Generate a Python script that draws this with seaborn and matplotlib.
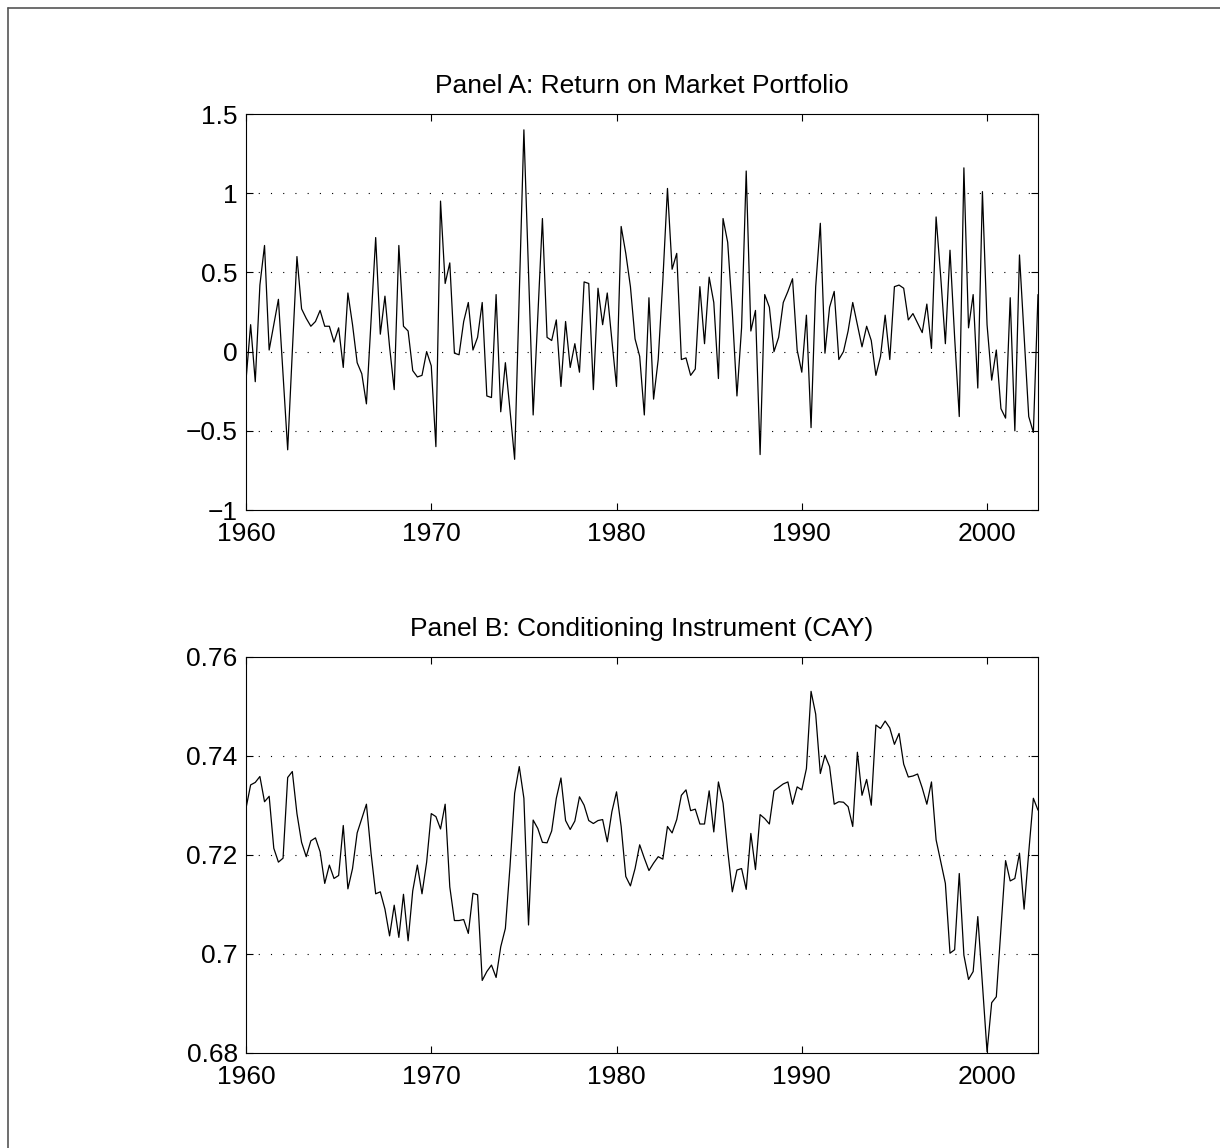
import matplotlib
matplotlib.use("Agg")
import matplotlib.pyplot as plt
import numpy as np
import pandas as pd
import seaborn as sns
from matplotlib.lines import Line2D

# quarterly observations, 1960Q1 .. 2002Q4
start_year = 1960
ret = [
    -0.18, 0.17, -0.19, 0.42, 0.67, 0.01, 0.17, 0.33, -0.14, -0.62,
    0.00, 0.60, 0.27, 0.21, 0.16, 0.19, 0.26, 0.16, 0.16, 0.06,
    0.15, -0.10, 0.37, 0.17, -0.07, -0.14, -0.33, 0.20, 0.72, 0.11,
    0.35, 0.03, -0.24, 0.67, 0.16, 0.13, -0.12, -0.16, -0.15, 0.00,
    -0.09, -0.60, 0.95, 0.43, 0.56, -0.01, -0.02, 0.19, 0.31, 0.01,
    0.09, 0.31, -0.28, -0.29, 0.36, -0.38, -0.07, -0.37, -0.68, 0.36,
    1.40, 0.50, -0.40, 0.22, 0.84, 0.09, 0.07, 0.20, -0.22, 0.19,
    -0.10, 0.05, -0.13, 0.44, 0.43, -0.24, 0.40, 0.17, 0.37, 0.07,
    -0.22, 0.79, 0.62, 0.41, 0.08, -0.03, -0.40, 0.34, -0.30, -0.05,
    0.45, 1.03, 0.52, 0.62, -0.05, -0.04, -0.15, -0.11, 0.41, 0.05,
    0.47, 0.31, -0.17, 0.84, 0.69, 0.25, -0.28, 0.15, 1.14, 0.13,
    0.26, -0.65, 0.36, 0.28, 0.00, 0.09, 0.31, 0.38, 0.46, 0.01,
    -0.13, 0.23, -0.48, 0.41, 0.81, -0.01, 0.28, 0.38, -0.05, 0.00,
    0.13, 0.31, 0.17, 0.03, 0.16, 0.07, -0.15, -0.03, 0.23, -0.05,
    0.41, 0.42, 0.40, 0.20, 0.24, 0.18, 0.12, 0.30, 0.02, 0.85,
    0.47, 0.05, 0.64, 0.09, -0.41, 1.16, 0.15, 0.36, -0.23, 1.01,
    0.17, -0.18, 0.01, -0.36, -0.42, 0.34, -0.50, 0.61, 0.10, -0.41,
    -0.51, 0.36,
]
cay = [
    0.7294, 0.7341, 0.7346, 0.7358, 0.7307, 0.7318, 0.7213, 0.7185, 0.7193, 0.7356,
    0.7368, 0.7283, 0.7225, 0.7196, 0.7228, 0.7234, 0.7206, 0.7142, 0.7179, 0.7152,
    0.7158, 0.7259, 0.7131, 0.7172, 0.7244, 0.7273, 0.7302, 0.7203, 0.7121, 0.7125,
    0.7090, 0.7036, 0.7098, 0.7033, 0.7120, 0.7026, 0.7127, 0.7179, 0.7121, 0.7185,
    0.7283, 0.7277, 0.7252, 0.7302, 0.7135, 0.7067, 0.7067, 0.7069, 0.7041, 0.7122,
    0.7119, 0.6946, 0.6964, 0.6977, 0.6952, 0.7014, 0.7051, 0.7176, 0.7324, 0.7378,
    0.7314, 0.7058, 0.7270, 0.7253, 0.7225, 0.7224, 0.7248, 0.7314, 0.7355, 0.7269,
    0.7251, 0.7268, 0.7317, 0.7300, 0.7269, 0.7263, 0.7269, 0.7271, 0.7226, 0.7287,
    0.7327, 0.7257, 0.7156, 0.7137, 0.7172, 0.7220, 0.7193, 0.7168, 0.7183, 0.7196,
    0.7191, 0.7257, 0.7244, 0.7271, 0.7320, 0.7331, 0.7289, 0.7292, 0.7262, 0.7262,
    0.7329, 0.7246, 0.7347, 0.7304, 0.7209, 0.7125, 0.7169, 0.7172, 0.7130, 0.7243,
    0.7170, 0.7281, 0.7273, 0.7262, 0.7329, 0.7336, 0.7343, 0.7347, 0.7302, 0.7337,
    0.7331, 0.7374, 0.7530, 0.7484, 0.7364, 0.7401, 0.7378, 0.7302, 0.7307, 0.7306,
    0.7297, 0.7257, 0.7407, 0.7320, 0.7352, 0.7300, 0.7462, 0.7455, 0.7470, 0.7456,
    0.7423, 0.7445, 0.7383, 0.7357, 0.7359, 0.7363, 0.7335, 0.7302, 0.7347, 0.7230,
    0.7186, 0.7142, 0.7001, 0.7008, 0.7162, 0.6997, 0.6948, 0.6964, 0.7075, 0.6940,
    0.6802, 0.6901, 0.6913, 0.7051, 0.7188, 0.7147, 0.7152, 0.7203, 0.7090, 0.7205,
    0.7314, 0.7290,
]
year_ticks = [1960, 1970, 1980, 1990, 2000]
ret_ticks = [-1, -0.5, 0, 0.5, 1, 1.5]
ret_labels = ["\u22121", "\u22120.5", "0", "0.5", "1", "1.5"]
cay_ticks = [0.68, 0.70, 0.72, 0.74, 0.76]
cay_labels = ["0.68", "0.7", "0.72", "0.74", "0.76"]

df = pd.DataFrame({"date": start_year + np.arange(len(ret)) / 4, "ret": ret, "cay": cay})

sns.set_theme(style="white")
plt.rcParams["font.family"] = ["Liberation Sans", "DejaVu Sans"]

fig = plt.figure(figsize=(12.2, 11.48), dpi=100)
fig.patch.set_facecolor("white")

# thin frame at top and left like the source export
fig.add_artist(Line2D([7.5 / 1220, 7.5 / 1220], [0, 1 - 7.5 / 1148], transform=fig.transFigure, color="#555555", lw=1.2))
fig.add_artist(Line2D([7.5 / 1220, 1], [1 - 7.5 / 1148, 1 - 7.5 / 1148], transform=fig.transFigure, color="#555555", lw=1.2))

ax1 = fig.add_axes([246 / 1220, 1 - 510 / 1148, 792 / 1220, 396 / 1148])
ax2 = fig.add_axes([246 / 1220, 1 - 1052.7 / 1148, 792 / 1220, 396 / 1148])

FS = 19


def style_axis(ax, yticks, ylabels, ylim, title):
    ax.set_xlim(df.date.iloc[0], df.date.iloc[-1])
    ax.set_ylim(*ylim)
    ax.set_xticks(year_ticks)
    ax.set_xticklabels([str(y) for y in year_ticks])
    ax.set_yticks(yticks)
    ax.set_yticklabels(ylabels)
    ax.set_xlabel("")
    ax.set_ylabel("")
    ax.set_title(title, fontsize=FS, color="black", pad=15)
    ax.tick_params(direction="in", length=5, width=0.8, colors="black",
                   labelsize=FS, top=True, right=True, bottom=True, left=True)
    ax.tick_params(axis="x", pad=8.5)
    ax.tick_params(axis="y", pad=6)
    for s in ax.spines.values():
        s.set_visible(True)
        s.set_color("black")
        s.set_linewidth(0.8)
    for y in yticks[1:-1]:
        ax.axhline(y, color="black", lw=0.8, linestyle=(0, (1, 10)), zorder=0)


sns.lineplot(data=df, x="date", y="ret", ax=ax1, color="black", linewidth=0.9, estimator=None)
style_axis(ax1, ret_ticks, ret_labels, (-1, 1.5), "Panel A: Return on Market Portfolio")

sns.lineplot(data=df, x="date", y="cay", ax=ax2, color="black", linewidth=0.9, estimator=None)
style_axis(ax2, cay_ticks, cay_labels, (0.68, 0.76), "Panel B: Conditioning Instrument (CAY)")

fig.savefig("out.png", dpi=100, facecolor="white")
